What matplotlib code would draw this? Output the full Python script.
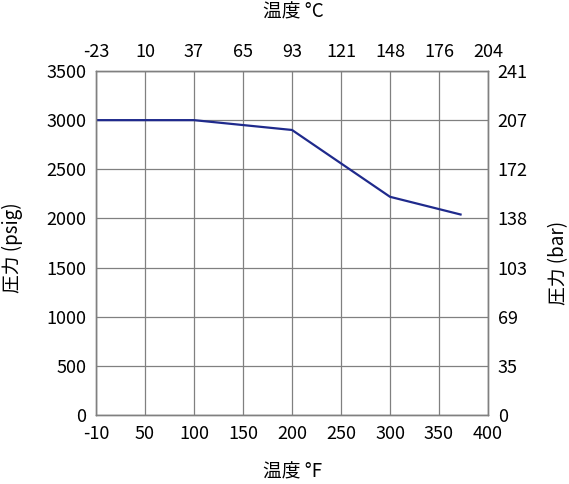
import matplotlib
matplotlib.use("Agg")
import matplotlib.pyplot as plt

plt.rcParams['font.family'] = ['Noto Sans CJK JP', 'DejaVu Sans']

# データ
temp_f = [0, 100, 200, 300, 372]
pressure_psig = [3000, 3000, 2900, 2220, 2040]

f_ticks = [0, 50, 100, 150, 200, 250, 300, 350, 400]
f_labels = ['-10', '50', '100', '150', '200', '250', '300', '350', '400']
c_labels = ['-23', '10', '37', '65', '93', '121', '148', '176', '204']
psig_ticks = [0, 500, 1000, 1500, 2000, 2500, 3000, 3500]
bar_labels = ['0', '35', '69', '103', '138', '172', '207', '241']

W, H = 569, 484
fig = plt.figure(figsize=(W/100, H/100), dpi=100)
ax = fig.add_axes([96/W, 1-415/H, 392/W, 344/H])

grid_c = '#808080'
fs = 13
ax.plot(temp_f, pressure_psig, color='#1f2a8c', lw=1.6, zorder=3)
ax.set_xlim(0, 400)
ax.set_ylim(0, 3500)
ax.set_xticks(f_ticks)
ax.set_xticklabels(f_labels)
ax.set_yticks(psig_ticks)
ax.grid(True, color=grid_c, lw=0.9)
ax.tick_params(length=0, labelsize=fs, pad=7)

top = ax.twiny()
top.set_xlim(ax.get_xlim())
top.set_xticks(f_ticks)
top.set_xticklabels(c_labels)
top.tick_params(length=0, labelsize=fs, pad=7)

right = ax.twinx()
right.set_ylim(ax.get_ylim())
right.set_yticks(psig_ticks)
right.set_yticklabels(bar_labels)
right.tick_params(length=0, labelsize=fs, pad=7)

for a in (ax, top, right):
    for s in a.spines.values():
        s.set_color(grid_c)
        s.set_linewidth(0.9)

# 軸ラベル
fig.text(293/W, 1-12/H, '温度 °C', fontsize=13.5, ha='center', va='center')
fig.text(293/W, 1-472/H, '温度 °F', fontsize=13.5, ha='center', va='center')
fig.text(12/W, 1-248/H, '圧力 (psig)', fontsize=13.5, rotation=90, ha='center', va='center')
fig.text(559/W, 1-263/H, '圧力 (bar)', fontsize=13.5, rotation=90, ha='center', va='center')

fig.savefig('out.png', dpi=100)
